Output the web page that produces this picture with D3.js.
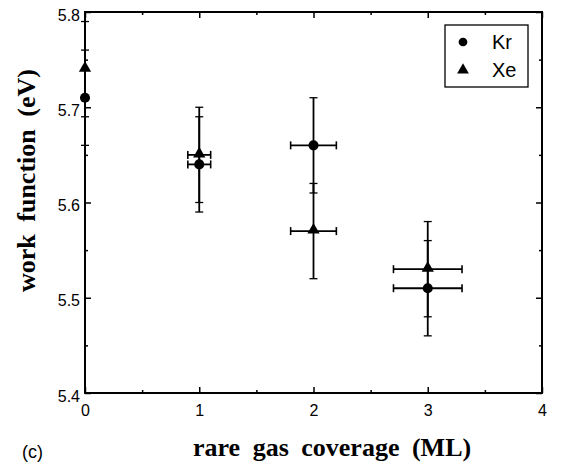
<!DOCTYPE html>
<html>
<head>
<meta charset="utf-8">
<script src="https://cdn.jsdelivr.net/npm/d3@7"></script>
<style>
  body { margin: 0; background: #fff; }
  svg { display: block; }
</style>
</head>
<body>
<svg id="chart" width="569" height="467"></svg>
<script>
// Work function vs. rare gas coverage
const coverage = [0, 1, 2, 3];
const krWork = [5.71, 5.64, 5.66, 5.51];
const xeWork = [5.74, 5.65, 5.57, 5.53];
const yErr = [0.05, 0.05, 0.05, 0.05];
const xErr = [0, 0.1, 0.2, 0.3];
const xTicks = [0, 1, 2, 3, 4];
const yTicks = [5.4, 5.5, 5.6, 5.7, 5.8];

const svg = d3.select("#chart");
const plotLeft = 85, plotRight = 542, plotTop = 12, plotBottom = 393;

const x = d3.scaleLinear().domain([0, 4]).range([plotLeft, plotRight]);
const y = d3.scaleLinear().domain([5.4, 5.8]).range([plotBottom, plotTop]);

const tickFont = "Liberation Sans, Arial, sans-serif";
const serif = "Liberation Serif, Times New Roman, serif";

// frame
svg.append("rect")
  .attr("x", plotLeft).attr("y", plotTop)
  .attr("width", plotRight - plotLeft).attr("height", plotBottom - plotTop)
  .attr("fill", "none").attr("stroke", "#000").attr("stroke-width", 2);

// axes with inward ticks
const xMinor = d3.range(0.5, 4, 1);
const yMinor = [5.45, 5.55, 5.65, 5.75];

function addAxis(axis, tr) {
  const g = svg.append("g").attr("transform", tr).call(axis);
  g.select(".domain").remove();
  g.selectAll("line").attr("stroke", "#000").attr("stroke-width", 1.5);
  return g;
}

const bx = addAxis(d3.axisBottom(x).tickValues(xTicks).tickSize(-6).tickPadding(12).tickFormat(d3.format("d")), `translate(0,${plotBottom})`);
bx.selectAll("text").attr("font-family", tickFont).attr("font-size", 16).attr("fill", "#000");
addAxis(d3.axisBottom(x).tickValues(xMinor).tickSize(-3).tickFormat(""), `translate(0,${plotBottom})`);
addAxis(d3.axisTop(x).tickValues(xTicks).tickSize(-6).tickFormat(""), `translate(0,${plotTop})`);
addAxis(d3.axisTop(x).tickValues(xMinor).tickSize(-3).tickFormat(""), `translate(0,${plotTop})`);

const ly = addAxis(d3.axisLeft(y).tickValues(yTicks).tickSize(-6).tickPadding(5).tickFormat(d3.format(".1f")), `translate(${plotLeft},0)`);
ly.selectAll("text").attr("font-family", tickFont).attr("font-size", 16).attr("fill", "#000").attr("dy", "0.5em");
addAxis(d3.axisLeft(y).tickValues(yMinor).tickSize(-3).tickFormat(""), `translate(${plotLeft},0)`);
addAxis(d3.axisRight(y).tickValues(yTicks).tickSize(-6).tickFormat(""), `translate(${plotRight},0)`);
addAxis(d3.axisRight(y).tickValues(yMinor).tickSize(-3).tickFormat(""), `translate(${plotRight},0)`);

// error bars
function errorBars(vals) {
  const g = svg.append("g").attr("stroke", "#000").attr("stroke-width", 1.8);
  coverage.forEach((c, i) => {
    const v = vals[i];
    g.append("line").attr("x1", x(c)).attr("x2", x(c))
      .attr("y1", y(v - yErr[i])).attr("y2", y(v + yErr[i]));
    [v - yErr[i], v + yErr[i]].forEach(e => {
      g.append("line").attr("x1", x(c) - 4).attr("x2", x(c) + 4)
        .attr("y1", y(e)).attr("y2", y(e)).attr("stroke-width", 1.3);
    });
    if (xErr[i] > 0) {
      g.append("line").attr("x1", x(c - xErr[i])).attr("x2", x(c + xErr[i]))
        .attr("y1", y(v)).attr("y2", y(v));
      [c - xErr[i], c + xErr[i]].forEach(e => {
        g.append("line").attr("x1", x(e)).attr("x2", x(e))
          .attr("y1", y(v) - 4).attr("y2", y(v) + 4).attr("stroke-width", 1.6);
      });
    }
  });
}
errorBars(krWork);
errorBars(xeWork);

const circleSym = d3.symbol().type(d3.symbolCircle).size(80);
const triSym = d3.symbol().type(d3.symbolTriangle).size(65);

svg.append("g").selectAll("path").data(coverage).join("path")
  .attr("d", circleSym)
  .attr("transform", (c, i) => `translate(${x(c)},${y(krWork[i])})`)
  .attr("fill", "#000");
svg.append("g").selectAll("path").data(coverage).join("path")
  .attr("d", triSym)
  .attr("transform", (c, i) => `translate(${x(c)},${y(xeWork[i]) - 1})`)
  .attr("fill", "#000");

// legend
const lg = svg.append("g");
lg.append("rect").attr("x", 445).attr("y", 25).attr("width", 83).attr("height", 62)
  .attr("fill", "#fff").attr("stroke", "#000").attr("stroke-width", 1.3);
lg.append("path").attr("d", d3.symbol().type(d3.symbolCircle).size(60))
  .attr("transform", "translate(463,42)");
lg.append("path").attr("d", d3.symbol().type(d3.symbolTriangle).size(60))
  .attr("transform", "translate(463,70)");
lg.append("text").attr("x", 492).attr("y", 49).text("Kr")
  .attr("font-family", tickFont).attr("font-size", 20);
lg.append("text").attr("x", 492).attr("y", 77).text("Xe")
  .attr("font-family", tickFont).attr("font-size", 20);

// axis titles
svg.append("text").attr("x", 193).attr("y", 456)
  .attr("font-family", serif).attr("font-weight", "bold").attr("font-size", 26)
  .attr("word-spacing", 6)
  .text("rare gas coverage (ML)");
svg.append("text").attr("transform", "translate(35,292) rotate(-90)")
  .attr("font-family", serif).attr("font-weight", "bold").attr("font-size", 26)
  .attr("word-spacing", 6)
  .text("work function (eV)");
svg.append("text").attr("x", 22).attr("y", 458)
  .attr("font-family", tickFont).attr("font-size", 18)
  .text("(c)");
</script>
</body>
</html>
